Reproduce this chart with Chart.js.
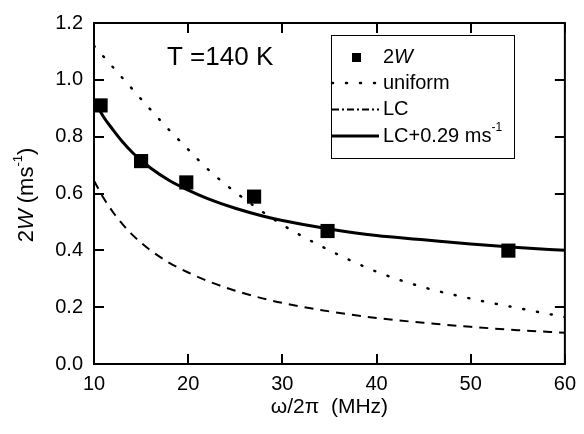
<!DOCTYPE html>
<html>
<head>
<meta charset="utf-8">
<script src="https://cdn.jsdelivr.net/npm/chart.js@4/dist/chart.umd.min.js"></script>
<style>
html,body{margin:0;padding:0;background:#fff;}
#wrap{width:584px;height:434px;position:relative;}
</style>
</head>
<body>
<div id="wrap"><canvas id="c" width="584" height="434"></canvas></div>
<script>
// measured data points (2W)
const pointFreq = [10.7, 15.0, 19.8, 27.0, 34.8, 54.0];
const pointW    = [0.910, 0.714, 0.639, 0.589, 0.468, 0.399];

// curves
const uniformFreq = [10,12,14,16,18,20,22,25,30,35,40,45,50,55,60];
const uniformW    = [1.12,1.045,0.97,0.895,0.823,0.755,0.688,0.605,0.49,0.40,0.325,0.27,0.23,0.197,0.165];

const lcFreq = [10,11,12,13,14,15,16,18,20,22,25,28,30,35,40,45,50,55,60];
const lcW    = [0.645,0.585,0.535,0.493,0.457,0.427,0.40,0.356,0.322,0.293,0.258,0.230,0.215,0.185,0.162,0.145,0.131,0.119,0.110];
const lcPlusW= [0.93,0.87,0.825,0.783,0.747,0.717,0.69,0.646,0.612,0.583,0.548,0.52,0.505,0.475,0.452,0.437,0.422,0.410,0.40];

const xTicks = [10,20,30,40,50,60];
const yTicks = [0.0,0.2,0.4,0.6,0.8,1.0,1.2];

const FONT = '"Liberation Sans", Arial, sans-serif';

function zip(xs, ys){ return xs.map((x,i)=>({x:x, y:ys[i]})); }

const framePlugin = {
  id:'frame',
  afterDraw(chart){
    const ctx = chart.ctx;
    const a = chart.chartArea;
    const xs = chart.scales.x, ys = chart.scales.y;
    ctx.save();
    ctx.strokeStyle = '#000';
    ctx.lineWidth = 2;
    ctx.strokeRect(a.left, a.top, a.right - a.left, a.bottom - a.top);
    ctx.beginPath();
    const tl = 10;
    xTicks.forEach(v=>{
      const px = Math.round(xs.getPixelForValue(v));
      ctx.moveTo(px, a.bottom); ctx.lineTo(px, a.bottom - tl);
      ctx.moveTo(px, a.top); ctx.lineTo(px, a.top + tl);
    });
    yTicks.forEach(v=>{
      const py = Math.round(ys.getPixelForValue(v));
      ctx.moveTo(a.left, py); ctx.lineTo(a.left + tl, py);
      ctx.moveTo(a.right, py); ctx.lineTo(a.right - tl, py);
    });
    ctx.stroke();

    // annotation
    ctx.fillStyle = '#000';
    ctx.font = '26px ' + FONT;
    ctx.textBaseline = 'middle';
    ctx.textAlign = 'left';
    ctx.fillText('T =140 K', 167, 58);

    // y axis title (rotated, mixed styles)
    const segs = [
      {t:'2', f:'22px '+FONT, dy:0},
      {t:'W', f:'italic 22px '+FONT, dy:0},
      {t:' (ms', f:'22px '+FONT, dy:0},
      {t:'-1', f:'13px '+FONT, dy:-9},
      {t:')', f:'22px '+FONT, dy:0}
    ];
    let total = 0;
    segs.forEach(s=>{ ctx.font = s.f; s.w = ctx.measureText(s.t).width; total += s.w; });
    ctx.save();
    ctx.translate(27, 195);
    ctx.rotate(-Math.PI/2);
    let x = -total/2;
    segs.forEach(s=>{ ctx.font = s.f; ctx.fillText(s.t, x, s.dy); x += s.w; });
    ctx.restore();

    // legend
    const bx = 331, by = 35, bw = 183, bh = 123;
    ctx.lineWidth = 1;
    ctx.strokeStyle = '#000';
    ctx.strokeRect(bx + 0.5, by + 0.5, bw, bh);
    const ds = chart.data.datasets;
    const rows = [57.5, 83, 109.5, 136];
    const tx = 383;
    // row 0: square
    ctx.fillStyle = '#000';
    ctx.fillRect(352, rows[0]-4.5, 9, 9);
    ctx.font = '20px ' + FONT;
    ctx.fillText('2', tx, rows[0]);
    let w2 = ctx.measureText('2').width;
    ctx.font = 'italic 20px ' + FONT;
    ctx.fillText('W', tx + w2, rows[0]);
    // lines
    const sample = (row, d) => {
      ctx.save();
      ctx.strokeStyle = d.borderColor;
      ctx.lineWidth = d.borderWidth;
      ctx.setLineDash(d.legendDash || d.borderDash || []);
      ctx.lineCap = d.borderCapStyle || 'butt';
      ctx.beginPath();
      ctx.moveTo(332, row); ctx.lineTo(379, row);
      ctx.stroke();
      ctx.restore();
    };
    sample(rows[1], ds[1]);
    sample(rows[2], ds[2]);
    sample(rows[3], ds[3]);
    ctx.font = '20px ' + FONT;
    ctx.fillText('uniform', tx, rows[1]);
    ctx.fillText('LC', tx, rows[2]);
    ctx.fillText('LC+0.29 ms', tx, rows[3]);
    const wl = ctx.measureText('LC+0.29 ms').width;
    ctx.font = '12px ' + FONT;
    ctx.fillText('-1', tx + wl, rows[3] - 8);
    ctx.restore();
  }
};

new Chart(document.getElementById('c'), {
  type:'scatter',
  data:{
    datasets:[
      {label:'2W', data:zip(pointFreq, pointW), pointStyle:'rect', pointRadius:10, pointHoverRadius:10,
       backgroundColor:'#000', borderColor:'#000', borderWidth:0, showLine:false},
      {label:'uniform', data:zip(uniformFreq, uniformW), showLine:true, pointRadius:0, borderColor:'#000',
       borderWidth:2.5, borderDash:[1,13], borderCapStyle:'round', cubicInterpolationMode:'monotone', fill:false},
      {label:'LC', data:zip(lcFreq, lcW), showLine:true, pointRadius:0, borderColor:'#000',
       borderWidth:2, borderDash:[9,7], legendDash:[7,3,2,3], cubicInterpolationMode:'monotone', fill:false},
      {label:'LC+0.29 ms-1', data:zip(lcFreq, lcPlusW), showLine:true, pointRadius:0, borderColor:'#000',
       borderWidth:3, cubicInterpolationMode:'monotone', fill:false}
    ]
  },
  options:{
    responsive:false,
    animation:false,
    layout:{padding:{left:0, right:14, top:15, bottom:0}},
    plugins:{legend:{display:false}, tooltip:{enabled:false}},
    scales:{
      x:{
        type:'linear', min:10, max:60,
        afterBuildTicks(s){ s.ticks = xTicks.map(v=>({value:v})); },
        afterFit(s){ s.height = 70; },
        grid:{display:false, drawTicks:false, tickLength:0},
        border:{display:false},
        ticks:{color:'#000', font:{family:FONT, size:20}, padding:8, maxRotation:0,
               callback:(v)=>String(v)},
        title:{display:true, text:'ω/2π  (MHz)', color:'#000', font:{family:FONT, size:21},
               padding:{top:0, bottom:14}}
      },
      y:{
        type:'linear', min:0, max:1.2,
        afterBuildTicks(s){ s.ticks = yTicks.map(v=>({value:v})); },
        afterFit(s){ s.width = 94; },
        grid:{display:false, drawTicks:false, tickLength:0},
        border:{display:false},
        ticks:{color:'#000', font:{family:FONT, size:20}, padding:11,
               callback:(v)=>Number(v).toFixed(1)}
      }
    }
  },
  plugins:[framePlugin]
});
</script>
</body>
</html>
